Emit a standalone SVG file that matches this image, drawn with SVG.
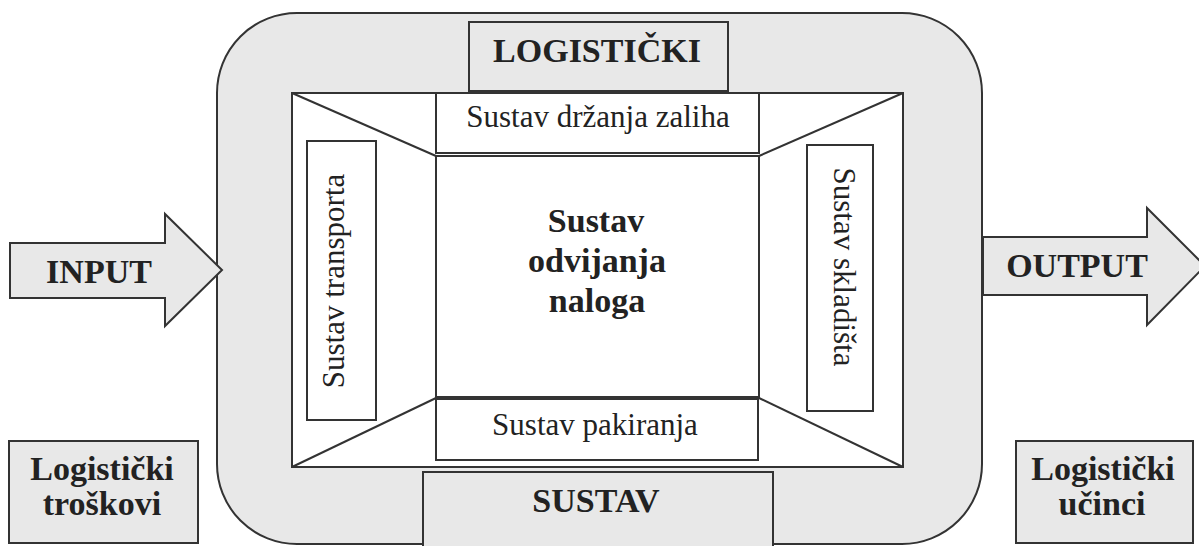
<svg xmlns="http://www.w3.org/2000/svg" width="1199" height="546" viewBox="0 0 1199 546">
<style>
.g{fill:#e8e8e8;stroke:#333;stroke-width:2}
.w{fill:#fff;stroke:#333;stroke-width:2}
.ln{stroke:#333;stroke-width:2;fill:none}
.r{font-family:"Liberation Serif","Times New Roman",serif;font-size:31px;fill:#222;text-anchor:middle}
.b{font-family:"Liberation Serif","Times New Roman",serif;font-size:34px;font-weight:bold;fill:#222;text-anchor:middle}
</style>
<rect width="1199" height="546" fill="#fff"/>
<g id="outer"><rect class="g" x="217" y="13" width="765" height="531" rx="80" ry="80"/></g>
<g id="inner"><rect class="w" x="292" y="93" width="611" height="374"/></g>
<g id="connectors">
<line class="ln" x1="292" y1="93" x2="436" y2="156"/>
<line class="ln" x1="903" y1="93" x2="759" y2="156"/>
<line class="ln" x1="292" y1="467" x2="436" y2="398"/>
<line class="ln" x1="903" y1="467" x2="759" y2="398"/>
</g>
<g id="logisticki"><rect class="g" x="469" y="22" width="259" height="69"/><text class="b" x="597" y="62">LOGISTIČKI</text></g>
<g id="zalihe"><rect class="w" x="436" y="93" width="323" height="60"/><text class="r" x="598" y="127">Sustav držanja zaliha</text></g>
<g id="nalozi"><rect class="w" x="436" y="156" width="323" height="241"/>
<text class="b" x="596" y="232">Sustav</text><text class="b" x="597" y="272">odvijanja</text><text class="b" x="597" y="312">naloga</text></g>
<g id="pakiranje"><rect class="w" x="436" y="399" width="322" height="61"/><text class="r" x="595" y="435">Sustav pakiranja</text></g>
<g id="transport"><rect class="w" x="307" y="141" width="69" height="279"/><text class="r" transform="translate(344,281) rotate(-90)">Sustav transporta</text></g>
<g id="skladiste"><rect class="w" x="807" y="145" width="66" height="266"/><text class="r" transform="translate(834,267) rotate(90)">Sustav skladišta</text></g>
<g id="sustav"><rect class="g" x="423" y="472" width="350" height="90"/><text class="b" x="596" y="512">SUSTAV</text></g>
<g id="input"><polygon class="g" points="10,243 165,243 165,214 222,270 165,326 165,298 10,298"/><text class="b" x="99" y="283">INPUT</text></g>
<g id="output"><polygon class="g" points="983,237 1147,237 1147,208 1205,266 1147,325 1147,295 983,295"/><text class="b" x="1077" y="277">OUTPUT</text></g>
<g id="troskovi"><rect class="g" x="9" y="441" width="189" height="102"/><text class="b" x="102" y="480">Logistički</text><text class="b" x="102" y="515">troškovi</text></g>
<g id="ucinci"><rect class="g" x="1016" y="441" width="177" height="102"/><text class="b" x="1103" y="480">Logistički</text><text class="b" x="1102" y="515">učinci</text></g>
</svg>
